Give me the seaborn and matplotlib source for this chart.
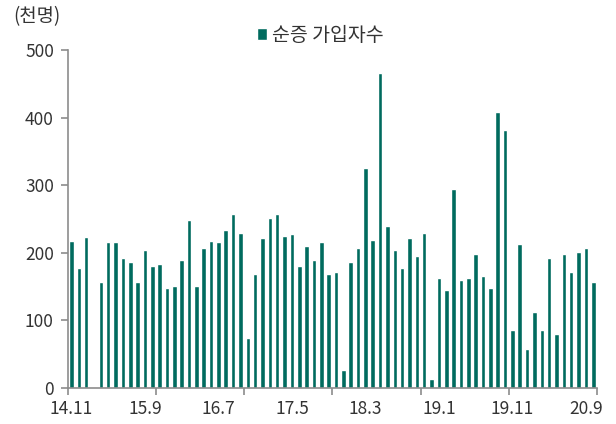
import numpy as np
import pandas as pd
import seaborn as sns
import matplotlib.pyplot as plt

# monthly net subscriber additions (thousand persons), 14.11 ~ 20.10
months = [p.strftime("%y.%-m") for p in pd.period_range("2014-11", periods=72, freq="M")]
net_adds = [
    218, 177, 224, np.nan, 157, 216, 216, 192, 187, 157,
    204, 180, 183, 148, 151, 189, 248, 151, 207, 218,
    216, 233, 257, 230, 74, 168, 222, 251, 257, 225,
    228, 180, 210, 189, 216, 168, 171, 27, 186, 207,
    325, 219, 466, 239, 204, 177, 222, 195, 230, 13,
    163, 145, 295, 160, 163, 198, 166, 148, 409, 381,
    86, 213, 57, 112, 86, 192, 80, 198, 171, 201,
    207, 157,
]
label_every = 10
tick_every = 12

sns.set_style("white")
plt.rcParams["font.family"] = ["Noto Sans CJK KR", "DejaVu Sans"]

df = pd.DataFrame({"month": months, "value": net_adds})

fig = plt.figure(figsize=(6.16, 4.24), dpi=100)
ax = fig.add_axes([0.110, 0.085, 0.859, 0.797])

bar_color = "#006b5e"
sns.barplot(data=df, x="month", y="value", color=bar_color, width=0.62,
            saturation=1, ax=ax, label="순증 가입자수")

text_color = "#333333"
axis_color = "#8c8c8c"

ax.set_xlim(-0.5, len(months) - 0.5)
ax.set_ylim(0, 500)
ax.set_yticks(range(0, 501, 100))
ax.tick_params(axis="y", labelsize=12.5, colors=text_color, length=5,
               color=axis_color, width=1.2, direction="out", left=True, pad=5)

# labels every 10 months, tick marks every 12 months
label_pos = list(range(0, len(months), label_every))
ax.set_xticks(label_pos)
ax.set_xticklabels([months[i] for i in label_pos])
ax.set_xticks(np.arange(-0.5, len(months), tick_every), minor=True)
ax.tick_params(axis="x", which="major", length=0, labelsize=12.5,
               colors=text_color, pad=9)
ax.tick_params(axis="x", which="minor", length=5, color=axis_color,
               width=1.2, direction="out", bottom=True)

for side in ["top", "right"]:
    ax.spines[side].set_visible(False)
for side in ["left", "bottom"]:
    ax.spines[side].set_color(axis_color)
    ax.spines[side].set_linewidth(1.2)

ax.set_xlabel("")
ax.set_ylabel("")

leg = ax.legend(loc="upper center", bbox_to_anchor=(0.477, 1.098), frameon=False,
                fontsize=14, handlelength=0.55, handleheight=0.55,
                handletextpad=0.25, borderaxespad=0)
for t in leg.get_texts():
    t.set_color(text_color)

fig.text(0.022, 0.96, "(천명)", fontsize=13.5, color=text_color, va="center")

fig.savefig("out.png", dpi=100)
